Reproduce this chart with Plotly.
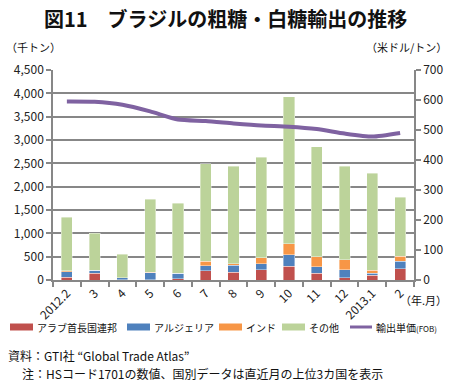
import plotly.graph_objects as go

months = ["2012.2", "3", "4", "5", "6", "7", "8", "9", "10", "11", "12", "2013.1", "2"]
cat_ids = ["2012-02", "2012-03", "2012-04", "2012-05", "2012-06", "2012-07", "2012-08",
           "2012-09", "2012-10", "2012-11", "2012-12", "2013-01", "2013-02"]

uae = [64, 143, 10, 10, 29, 195, 171, 221, 300, 143, 43, 100, 243]
algeria = [115, 64, 40, 147, 114, 112, 150, 122, 243, 136, 178, 50, 164]
india = [21, 0, 0, 14, 0, 100, 29, 136, 236, 221, 208, 64, 107]
total = [1340, 1000, 550, 1730, 1650, 2490, 2440, 2635, 3925, 2860, 2440, 2290, 1770]
others = [t - a - b - c for t, a, b, c in zip(total, uae, algeria, india)]
price = [595, 594, 584, 562, 535, 530, 522, 515, 511, 503, 488, 478, 490]

series_names = ["アラブ首長国連邦", "アルジェリア", "インド", "その他"]
series_colors = ["#C0504D", "#4F81BD", "#F79646", "#BCD39A"]
line_name = "輸出単価<span style='font-size:8px'>(FOB)</span>"
line_color = "#7F62A1"

FONT = "Noto Sans CJK JP"
grid = "#878787"

# plot-area geometry in pixels (for placing free text)
L, R, T, B = 53, 39, 70, 108
PW, PH = 453 - L - R, 388 - T - B


def px(x):
    return (x - L) / PW


def py(y):
    return (388 - B - y) / PH


fig = go.Figure()
edge = dict(color="rgba(255,255,255,0.5)", width=0.8)
for vals, nm, col in zip([uae, algeria, india, others], series_names, series_colors):
    fig.add_trace(go.Bar(x=cat_ids, y=vals, name=nm, marker=dict(color=col, line=edge)))
fig.add_trace(go.Scatter(x=cat_ids, y=price, name="輸出単価(FOB)", yaxis="y2", mode="lines",
                         line=dict(color=line_color, width=4, shape="spline", smoothing=0.6)))

fig.update_layout(
    width=453, height=388,
    margin=dict(l=L, r=R, t=T, b=B, autoexpand=False),
    paper_bgcolor="white", plot_bgcolor="white",
    barmode="stack", bargap=0.6,
    font=dict(family=FONT, size=12, color="#222"),
    showlegend=False,
    xaxis=dict(type="category", tickmode="array", tickvals=cat_ids, ticktext=months,
               tickangle=-45, ticks="outside", tickson="boundaries", ticklen=5,
               tickcolor=grid, tickwidth=1.5, showline=True, linecolor=grid, linewidth=1.5,
               showgrid=False, tickfont=dict(size=12, family=FONT)),
    yaxis=dict(range=[0, 4500], dtick=500, tickformat=",", showgrid=True, gridcolor=grid,
               gridwidth=1.5, showline=True, linecolor=grid, linewidth=1.5, ticks="outside",
               ticklen=5, tickcolor=grid, tickwidth=1.5, zeroline=False,
               tickfont=dict(size=12, family=FONT)),
    yaxis2=dict(range=[0, 700], dtick=100, overlaying="y", side="right", showgrid=False,
                showline=True, linecolor=grid, linewidth=1.5, ticks="outside", ticklen=5,
                tickcolor=grid, tickwidth=1.5, zeroline=False,
                tickfont=dict(size=12, family=FONT)),
)

texts = [
    ("<b>図11　ブラジルの粗糖・白糖輸出の推移</b>", 225, 18, "center", 20),
    ("（千トン）", 4, 47, "left", 11),
    ("（米ドル/トン）", 449, 47, "right", 11),
    ("（年.月）", 449, 300, "right", 11),
    ("資料：GTI社 “Global Trade Atlas”", 6, 355, "left", 12),
    ("注：HSコード1701の数値、国別データは直近月の上位3カ国を表示", 20, 373, "left", 12),
]
for t, x, y, xa, s in texts:
    fig.add_annotation(text=t, xref="paper", yref="paper", x=px(x), y=py(y),
                       xanchor=xa, yanchor="middle", showarrow=False,
                       font=dict(size=s, family=FONT, color="#111"))

# custom legend
leg_y = 327
swatch_x = [10, 127, 219, 282]
for sx, nm, col in zip(swatch_x, series_names, series_colors):
    fig.add_shape(type="rect", xref="paper", yref="paper", x0=px(sx), x1=px(sx + 23),
                  y0=py(leg_y + 3.5), y1=py(leg_y - 3.5), fillcolor=col, line=dict(width=0))
    fig.add_annotation(text=nm, xref="paper", yref="paper", x=px(sx + 25), y=py(leg_y),
                       xanchor="left", yanchor="middle", showarrow=False,
                       font=dict(size=10, family=FONT, color="#111"))
fig.add_shape(type="line", xref="paper", yref="paper", x0=px(350), x1=px(372),
              y0=py(leg_y), y1=py(leg_y), line=dict(color=line_color, width=3))
fig.add_annotation(text=line_name, xref="paper", yref="paper", x=px(374), y=py(leg_y),
                   xanchor="left", yanchor="middle", showarrow=False,
                   font=dict(size=10, family=FONT, color="#111"))

fig.write_html("out.html", config={"displayModeBar": False},
               post_script="document.body.style.margin='0';document.body.style.overflow='hidden';")
